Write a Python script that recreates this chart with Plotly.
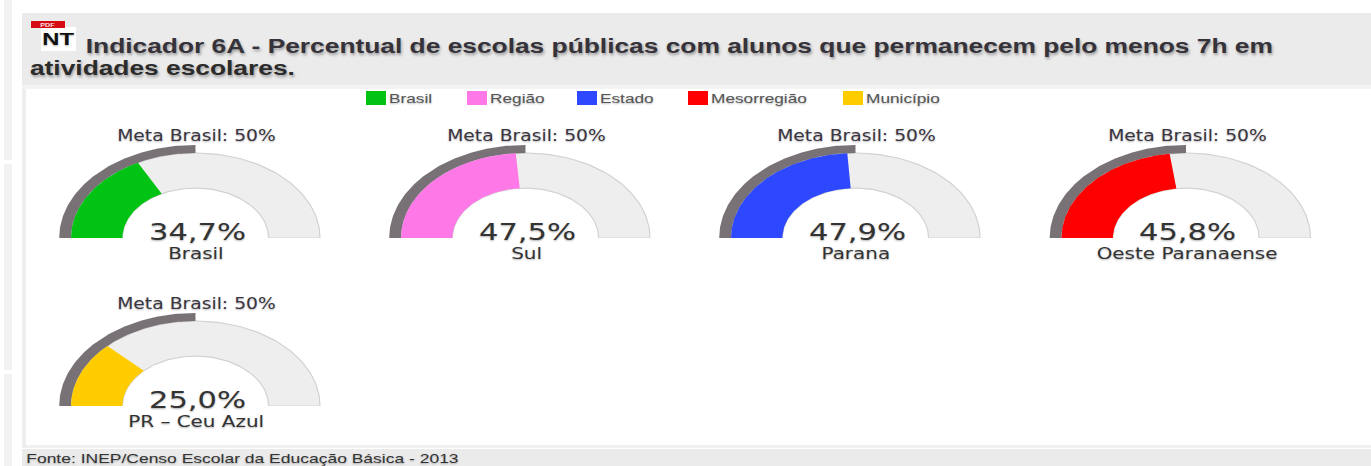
import json
import numpy as np
import plotly.graph_objects as go

W, H = 1371, 466
places = ["Brasil", "Sul", "Parana", "Oeste Paranaense", "PR – Ceu Azul"]
levels = ["Brasil", "Região", "Estado", "Mesorregião", "Município"]
values = [34.7, 47.5, 47.9, 45.8, 25.0]
value_labels = ["34,7%", "47,5%", "47,9%", "45,8%", "25,0%"]
colors = ["#00c314", "#ff78e8", "#2d48ff", "#ff0000", "#ffcc00"]
meta = 50
meta_label = "Meta Brasil: 50%"
centers = [(195.5, 238), (525.5, 238), (855.5, 238), (1186, 238), (195.5, 406)]
legend_x = [366, 467, 577, 688, 843]
RX, RY = 124.5, 85
HOLE, META_R = 0.587, 1.095
XR, YR = 1.25, 1.25


def band(pct_from, pct_to, r0, r1):
    a = np.pi * (1 - np.linspace(pct_from, pct_to, 90) / 100)
    x = np.r_[r1 * np.cos(a), r0 * np.cos(a[::-1])]
    y = np.r_[r1 * np.sin(a), r0 * np.sin(a[::-1])]
    return x, y


fig = go.Figure()
shapes, notes, stretch = [], [], []


def rect(x0, y0, x1, y1, fill):
    shapes.append(dict(type="rect", xref="paper", yref="paper", layer="below",
                       x0=x0 / W, x1=x1 / W, y0=1 - y0 / H, y1=1 - y1 / H,
                       fillcolor=fill, line=dict(width=0)))


soft = "0px 1px 2px rgba(0,0,0,0.3)"


def text(px, py, s, size, color="#333", anchor="center", family="DejaVu Sans", bold=False,
         shadow=soft, sx=1.3):
    notes.append(dict(xref="paper", yref="paper", x=px / W, y=1 - py / H, text=f"<b>{s}</b>" if bold else s,
                      showarrow=False, xanchor=anchor, yanchor="middle",
                      font=dict(size=size, color=color, family=family, shadow=shadow)))
    stretch.append([sx, anchor])


# page furniture
rect(4, 0, 12, 160, "#f2f2f2")
rect(4, 164, 12, 370, "#f2f2f2")
rect(4, 374, 12, 466, "#f2f2f2")
rect(22, 13, W, 85, "#ebebeb")
rect(22, 85, W, 89, "#f4f4f4")
rect(22, 89, 26, 448, "#eeeeee")
rect(26, 445, W, 448, "#f0f0f0")
rect(22, 449, W, 466, "#ebebeb")
rect(41, 27, 76, 51, "#ffffff")
rect(31, 21, 65, 28, "#d60a12")
text(48, 24.5, "PDF", 5.5, "#ffe0e0", bold=True, family="Liberation Sans", shadow="none")
text(58.5, 39, "NT", 17, "#111111", bold=True, family="Liberation Sans", sx=1.4)
title_shadow = "1px 2px 3px rgba(0,0,0,0.35)"
text(84, 46, "Indicador 6A - Percentual de escolas públicas com alunos que permanecem pelo menos 7h em", 19.3,
     "#35323a", "left", "Liberation Sans", True, title_shadow, 1.365)
text(28, 68, "atividades escolares.", 19.3, "#2b2b2b", "left", "Liberation Sans", True, title_shadow, 1.365)
text(24, 459, "Fonte: INEP/Censo Escolar da Educação Básica - 2013", 12.5, "#333333", "left", "Liberation Sans",
     sx=1.4)

for lx, name, c in zip(legend_x, levels, colors):
    rect(lx, 91, lx + 20, 105, c)
    text(lx + 21, 99, name, 12.5, "#555555", "left", "Liberation Sans", sx=1.38)

for i, (name, v, lab, c, (cx, cy)) in enumerate(zip(places, values, value_labels, colors, centers)):
    sfx = "" if i == 0 else str(i + 1)
    ax = dict(visible=False, fixedrange=True)
    fig.update_layout({
        f"xaxis{sfx}": dict(ax, range=[-XR, XR], anchor=f"y{sfx}",
                            domain=[(cx - XR * RX) / W, (cx + XR * RX) / W]),
        f"yaxis{sfx}": dict(ax, range=[0, YR], anchor=f"x{sfx}",
                            domain=[1 - cy / H, 1 - (cy - YR * RY) / H]),
    })
    xa, ya = f"x{sfx}", f"y{sfx}"
    x, y = band(0, 100, HOLE, 1)
    fig.add_trace(go.Scatter(x=x, y=y, xaxis=xa, yaxis=ya, mode="lines", fill="toself", fillcolor="#eeeeee",
                             line=dict(color="#d2d2d2", width=1.2), showlegend=False, hoverinfo="skip"))
    x, y = band(0, meta, 1, META_R)
    fig.add_trace(go.Scatter(x=x, y=y, xaxis=xa, yaxis=ya, mode="lines", fill="toself", fillcolor="#787276",
                             line=dict(width=0, color="#787276"), showlegend=False, hoverinfo="skip"))
    x, y = band(0, v, HOLE, 1)
    fig.add_trace(go.Scatter(x=x, y=y, xaxis=xa, yaxis=ya, mode="lines", fill="toself", fillcolor=c,
                             line=dict(width=0, color=c), name=levels[i], showlegend=False,
                             hoverinfo="skip"))
    text(cx + 1, cy - 102.5, meta_label, 15, "#3a3540", sx=1.25)
    text(cx + 1.5, cy - 6, lab, 23, "#333333", sx=1.33)
    text(cx + 0.5, cy + 16, name, 15, "#333333", sx=1.33)

fig.update_layout(
    width=W, height=H, margin=dict(l=0, r=0, t=0, b=0), paper_bgcolor="#ffffff", plot_bgcolor="rgba(0,0,0,0)",
    shapes=shapes, annotations=notes, showlegend=False,
)

# The reference text is horizontally stretched: apply the same stretch to the real text nodes.
post = """
document.body.style.margin = '0';
document.body.style.overflow = 'hidden';
var st = %s;
document.querySelectorAll('text.annotation-text').forEach(function (t, i) {
  var b = t.getBBox(), s = st[i][0];
  var ox = st[i][1] === 'left' ? b.x : b.x + b.width / 2;
  t.setAttribute('transform', 'translate(' + ox * (1 - s) + ',0) scale(' + s + ',1)');
});
""" % json.dumps(stretch)
fig.write_html("out.html", config=dict(displayModeBar=False), post_script=post)
